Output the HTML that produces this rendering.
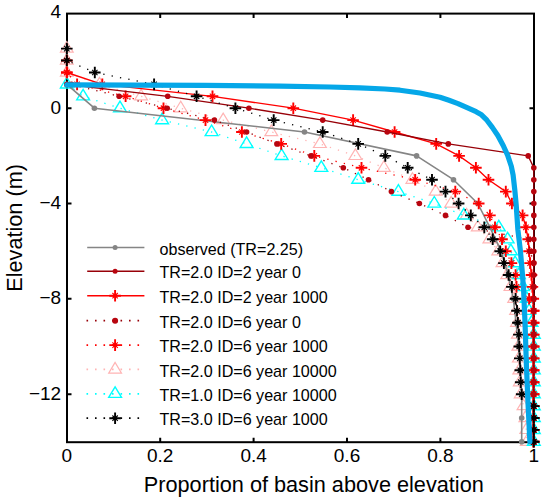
<!DOCTYPE html>
<html><head><meta charset="utf-8"><style>html,body{margin:0;padding:0;background:#fff;width:550px;height:499px;overflow:hidden;position:relative;font-family:"Liberation Sans",sans-serif}</style></head>
<body>
<svg width="550" height="499" viewBox="0 0 550 499" style="position:absolute;left:0;top:0">
<rect width="550" height="499" fill="#fff"/>
<rect x="67.0" y="13.6" width="467.0" height="428.6" fill="none" stroke="#000" stroke-width="2"/>
<path d="M160.2 442.2V437.7 M160.2 13.6V18.1 M253.6 442.2V437.7 M253.6 13.6V18.1 M347.0 442.2V437.7 M347.0 13.6V18.1 M440.4 442.2V437.7 M440.4 13.6V18.1 M67.0 108.2H71.5 M534.0 108.2H529.5 M67.0 203.5H71.5 M534.0 203.5H529.5 M67.0 298.8H71.5 M534.0 298.8H529.5 M67.0 394.2H71.5 M534.0 394.2H529.5" stroke="#000" stroke-width="2"/>
<polyline points="66.8,48.6 66.8,60.5 66.8,72.5 99.5,84.4 141.1,96.3 180.7,108.2 223.2,120.1 271.3,132.0 319.9,143.9 355.4,155.9 383.9,167.8 412.4,179.7 435.7,191.6 451.1,203.5 466.6,215.4 477.8,227.3 489.4,239.3 498.3,251.2 502.5,263.1 507.2,275.0 510.4,286.9 514.2,298.8 516.1,310.8 517.0,322.7 517.9,334.6 518.4,346.5 518.9,358.4 519.3,370.3 519.8,382.2 520.7,394.2 523.5,406.1 525.4,418.0 526.3,429.9 526.8,441.8" fill="none" stroke="#ffb4b4" stroke-width="1.30" stroke-dasharray="1.3 7.2" stroke-linejoin="round"/>
<path d="M66.8 41.6L60.4 52.2L73.2 52.2Z" stroke="#ffb4b4" stroke-width="1.2" fill="none" stroke-linejoin="miter"/>
<path d="M66.8 53.5L60.4 64.1L73.2 64.1Z" stroke="#ffb4b4" stroke-width="1.2" fill="none" stroke-linejoin="miter"/>
<path d="M66.8 65.5L60.4 76.1L73.2 76.1Z" stroke="#ffb4b4" stroke-width="1.2" fill="none" stroke-linejoin="miter"/>
<path d="M99.5 77.4L93.1 88.0L105.9 88.0Z" stroke="#ffb4b4" stroke-width="1.2" fill="none" stroke-linejoin="miter"/>
<path d="M141.1 89.3L134.7 99.9L147.5 99.9Z" stroke="#ffb4b4" stroke-width="1.2" fill="none" stroke-linejoin="miter"/>
<path d="M180.7 101.2L174.3 111.8L187.1 111.8Z" stroke="#ffb4b4" stroke-width="1.2" fill="none" stroke-linejoin="miter"/>
<path d="M223.2 113.1L216.8 123.7L229.6 123.7Z" stroke="#ffb4b4" stroke-width="1.2" fill="none" stroke-linejoin="miter"/>
<path d="M271.3 125.0L264.9 135.6L277.7 135.6Z" stroke="#ffb4b4" stroke-width="1.2" fill="none" stroke-linejoin="miter"/>
<path d="M319.9 136.9L313.5 147.5L326.3 147.5Z" stroke="#ffb4b4" stroke-width="1.2" fill="none" stroke-linejoin="miter"/>
<path d="M355.4 148.9L349.0 159.5L361.8 159.5Z" stroke="#ffb4b4" stroke-width="1.2" fill="none" stroke-linejoin="miter"/>
<path d="M383.9 160.8L377.5 171.4L390.3 171.4Z" stroke="#ffb4b4" stroke-width="1.2" fill="none" stroke-linejoin="miter"/>
<path d="M412.4 172.7L406.0 183.3L418.8 183.3Z" stroke="#ffb4b4" stroke-width="1.2" fill="none" stroke-linejoin="miter"/>
<path d="M435.7 184.6L429.3 195.2L442.1 195.2Z" stroke="#ffb4b4" stroke-width="1.2" fill="none" stroke-linejoin="miter"/>
<path d="M451.1 196.5L444.7 207.1L457.5 207.1Z" stroke="#ffb4b4" stroke-width="1.2" fill="none" stroke-linejoin="miter"/>
<path d="M466.6 208.4L460.2 219.0L473.0 219.0Z" stroke="#ffb4b4" stroke-width="1.2" fill="none" stroke-linejoin="miter"/>
<path d="M477.8 220.3L471.4 230.9L484.2 230.9Z" stroke="#ffb4b4" stroke-width="1.2" fill="none" stroke-linejoin="miter"/>
<path d="M489.4 232.3L483.0 242.9L495.8 242.9Z" stroke="#ffb4b4" stroke-width="1.2" fill="none" stroke-linejoin="miter"/>
<path d="M498.3 244.2L491.9 254.8L504.7 254.8Z" stroke="#ffb4b4" stroke-width="1.2" fill="none" stroke-linejoin="miter"/>
<path d="M502.5 256.1L496.1 266.7L508.9 266.7Z" stroke="#ffb4b4" stroke-width="1.2" fill="none" stroke-linejoin="miter"/>
<path d="M507.2 268.0L500.8 278.6L513.6 278.6Z" stroke="#ffb4b4" stroke-width="1.2" fill="none" stroke-linejoin="miter"/>
<path d="M510.4 279.9L504.1 290.5L516.9 290.5Z" stroke="#ffb4b4" stroke-width="1.2" fill="none" stroke-linejoin="miter"/>
<path d="M514.2 291.8L507.8 302.4L520.6 302.4Z" stroke="#ffb4b4" stroke-width="1.2" fill="none" stroke-linejoin="miter"/>
<path d="M516.1 303.8L509.7 314.4L522.5 314.4Z" stroke="#ffb4b4" stroke-width="1.2" fill="none" stroke-linejoin="miter"/>
<path d="M517.0 315.7L510.6 326.3L523.4 326.3Z" stroke="#ffb4b4" stroke-width="1.2" fill="none" stroke-linejoin="miter"/>
<path d="M517.9 327.6L511.5 338.2L524.3 338.2Z" stroke="#ffb4b4" stroke-width="1.2" fill="none" stroke-linejoin="miter"/>
<path d="M518.4 339.5L512.0 350.1L524.8 350.1Z" stroke="#ffb4b4" stroke-width="1.2" fill="none" stroke-linejoin="miter"/>
<path d="M518.9 351.4L512.5 362.0L525.3 362.0Z" stroke="#ffb4b4" stroke-width="1.2" fill="none" stroke-linejoin="miter"/>
<path d="M519.3 363.3L512.9 373.9L525.7 373.9Z" stroke="#ffb4b4" stroke-width="1.2" fill="none" stroke-linejoin="miter"/>
<path d="M519.8 375.2L513.4 385.8L526.2 385.8Z" stroke="#ffb4b4" stroke-width="1.2" fill="none" stroke-linejoin="miter"/>
<path d="M520.7 387.2L514.3 397.8L527.1 397.8Z" stroke="#ffb4b4" stroke-width="1.2" fill="none" stroke-linejoin="miter"/>
<path d="M523.5 399.1L517.1 409.7L529.9 409.7Z" stroke="#ffb4b4" stroke-width="1.2" fill="none" stroke-linejoin="miter"/>
<path d="M525.4 411.0L519.0 421.6L531.8 421.6Z" stroke="#ffb4b4" stroke-width="1.2" fill="none" stroke-linejoin="miter"/>
<path d="M526.3 422.9L519.9 433.5L532.7 433.5Z" stroke="#ffb4b4" stroke-width="1.2" fill="none" stroke-linejoin="miter"/>
<path d="M526.8 434.8L520.4 445.4L533.2 445.4Z" stroke="#ffb4b4" stroke-width="1.2" fill="none" stroke-linejoin="miter"/>
<polyline points="66.8,84.4 83.1,96.3 120.0,108.2 162.1,120.1 211.6,132.0 246.6,143.9 281.6,155.9 321.3,167.8 358.2,179.7 398.4,191.6 434.3,203.5 463.8,215.4 498.8,227.3 507.6,239.3 510.9,251.2 515.1,263.1 518.9,275.0 523.1,286.9 526.8,298.8 529.1,310.8 531.5,322.7 533.8,334.6 533.8,346.5 533.8,358.4 533.8,370.3 533.8,382.2 533.8,394.2 533.8,406.1 533.8,418.0 533.8,429.9 533.8,441.8" fill="none" stroke="#00ffff" stroke-width="1.30" stroke-dasharray="1.3 7.2" stroke-linejoin="round"/>
<path d="M66.8 77.4L60.4 88.0L73.2 88.0Z" stroke="#00ffff" stroke-width="1.4" fill="none" stroke-linejoin="miter"/>
<path d="M83.1 89.3L76.7 99.9L89.5 99.9Z" stroke="#00ffff" stroke-width="1.4" fill="none" stroke-linejoin="miter"/>
<path d="M120.0 101.2L113.6 111.8L126.4 111.8Z" stroke="#00ffff" stroke-width="1.4" fill="none" stroke-linejoin="miter"/>
<path d="M162.1 113.1L155.7 123.7L168.5 123.7Z" stroke="#00ffff" stroke-width="1.4" fill="none" stroke-linejoin="miter"/>
<path d="M211.6 125.0L205.2 135.6L218.0 135.6Z" stroke="#00ffff" stroke-width="1.4" fill="none" stroke-linejoin="miter"/>
<path d="M246.6 136.9L240.2 147.5L253.0 147.5Z" stroke="#00ffff" stroke-width="1.4" fill="none" stroke-linejoin="miter"/>
<path d="M281.6 148.9L275.2 159.5L288.0 159.5Z" stroke="#00ffff" stroke-width="1.4" fill="none" stroke-linejoin="miter"/>
<path d="M321.3 160.8L314.9 171.4L327.7 171.4Z" stroke="#00ffff" stroke-width="1.4" fill="none" stroke-linejoin="miter"/>
<path d="M358.2 172.7L351.8 183.3L364.6 183.3Z" stroke="#00ffff" stroke-width="1.4" fill="none" stroke-linejoin="miter"/>
<path d="M398.4 184.6L392.0 195.2L404.8 195.2Z" stroke="#00ffff" stroke-width="1.4" fill="none" stroke-linejoin="miter"/>
<path d="M434.3 196.5L427.9 207.1L440.7 207.1Z" stroke="#00ffff" stroke-width="1.4" fill="none" stroke-linejoin="miter"/>
<path d="M463.8 208.4L457.4 219.0L470.1 219.0Z" stroke="#00ffff" stroke-width="1.4" fill="none" stroke-linejoin="miter"/>
<path d="M498.8 220.3L492.4 230.9L505.2 230.9Z" stroke="#00ffff" stroke-width="1.4" fill="none" stroke-linejoin="miter"/>
<path d="M507.6 232.3L501.2 242.9L514.0 242.9Z" stroke="#00ffff" stroke-width="1.4" fill="none" stroke-linejoin="miter"/>
<path d="M510.9 244.2L504.5 254.8L517.3 254.8Z" stroke="#00ffff" stroke-width="1.4" fill="none" stroke-linejoin="miter"/>
<path d="M515.1 256.1L508.7 266.7L521.5 266.7Z" stroke="#00ffff" stroke-width="1.4" fill="none" stroke-linejoin="miter"/>
<path d="M518.9 268.0L512.5 278.6L525.3 278.6Z" stroke="#00ffff" stroke-width="1.4" fill="none" stroke-linejoin="miter"/>
<path d="M523.1 279.9L516.7 290.5L529.5 290.5Z" stroke="#00ffff" stroke-width="1.4" fill="none" stroke-linejoin="miter"/>
<path d="M526.8 291.8L520.4 302.4L533.2 302.4Z" stroke="#00ffff" stroke-width="1.4" fill="none" stroke-linejoin="miter"/>
<path d="M529.1 303.8L522.7 314.4L535.5 314.4Z" stroke="#00ffff" stroke-width="1.4" fill="none" stroke-linejoin="miter"/>
<path d="M531.5 315.7L525.1 326.3L537.9 326.3Z" stroke="#00ffff" stroke-width="1.4" fill="none" stroke-linejoin="miter"/>
<path d="M533.8 327.6L527.4 338.2L540.2 338.2Z" stroke="#00ffff" stroke-width="1.4" fill="none" stroke-linejoin="miter"/>
<path d="M533.8 339.5L527.4 350.1L540.2 350.1Z" stroke="#00ffff" stroke-width="1.4" fill="none" stroke-linejoin="miter"/>
<path d="M533.8 351.4L527.4 362.0L540.2 362.0Z" stroke="#00ffff" stroke-width="1.4" fill="none" stroke-linejoin="miter"/>
<path d="M533.8 363.3L527.4 373.9L540.2 373.9Z" stroke="#00ffff" stroke-width="1.4" fill="none" stroke-linejoin="miter"/>
<path d="M533.8 375.2L527.4 385.8L540.2 385.8Z" stroke="#00ffff" stroke-width="1.4" fill="none" stroke-linejoin="miter"/>
<path d="M533.8 387.2L527.4 397.8L540.2 397.8Z" stroke="#00ffff" stroke-width="1.4" fill="none" stroke-linejoin="miter"/>
<path d="M533.8 399.1L527.4 409.7L540.2 409.7Z" stroke="#00ffff" stroke-width="1.4" fill="none" stroke-linejoin="miter"/>
<path d="M533.8 411.0L527.4 421.6L540.2 421.6Z" stroke="#00ffff" stroke-width="1.4" fill="none" stroke-linejoin="miter"/>
<path d="M533.8 422.9L527.4 433.5L540.2 433.5Z" stroke="#00ffff" stroke-width="1.4" fill="none" stroke-linejoin="miter"/>
<path d="M533.8 434.8L527.4 445.4L540.2 445.4Z" stroke="#00ffff" stroke-width="1.4" fill="none" stroke-linejoin="miter"/>
<polyline points="66.8,84.4 94.4,108.2 304.5,132.0 416.6,155.9 453.5,179.7 477.8,203.5 489.9,227.3 501.1,251.2 508.1,275.0 513.3,298.8 516.1,322.7 518.4,346.5 520.3,370.3 521.7,394.2 521.7,418.0 521.7,441.8" fill="none" stroke="#858585" stroke-width="1.60"  stroke-linejoin="round"/>
<circle cx="66.8" cy="84.4" r="2.8" fill="#858585"/>
<circle cx="94.4" cy="108.2" r="2.8" fill="#858585"/>
<circle cx="304.5" cy="132.0" r="2.8" fill="#858585"/>
<circle cx="416.6" cy="155.9" r="2.8" fill="#858585"/>
<circle cx="453.5" cy="179.7" r="2.8" fill="#858585"/>
<circle cx="477.8" cy="203.5" r="2.8" fill="#858585"/>
<circle cx="489.9" cy="227.3" r="2.8" fill="#858585"/>
<circle cx="501.1" cy="251.2" r="2.8" fill="#858585"/>
<circle cx="508.1" cy="275.0" r="2.8" fill="#858585"/>
<circle cx="513.3" cy="298.8" r="2.8" fill="#858585"/>
<circle cx="516.1" cy="322.7" r="2.8" fill="#858585"/>
<circle cx="518.4" cy="346.5" r="2.8" fill="#858585"/>
<circle cx="520.3" cy="370.3" r="2.8" fill="#858585"/>
<circle cx="521.7" cy="394.2" r="2.8" fill="#858585"/>
<circle cx="521.7" cy="418.0" r="2.8" fill="#858585"/>
<circle cx="521.7" cy="441.8" r="2.8" fill="#858585"/>
<polyline points="66.8,72.5 102.3,84.4 212.5,96.3 293.3,108.2 353.1,120.1 394.6,132.0 436.2,143.9 459.1,155.9 475.9,167.8 488.5,179.7 505.8,191.6 511.9,203.5 522.6,215.4 525.9,227.3 528.2,239.3 529.1,251.2 530.1,263.1 531.5,275.0 532.4,286.9 533.3,298.8 533.3,310.8 533.3,322.7 533.3,334.6 533.3,346.5 533.3,358.4 533.3,370.3 533.3,382.2 533.3,394.2 533.3,406.1 533.3,418.0 533.3,429.9 533.3,441.8" fill="none" stroke="#ff0000" stroke-width="1.35"  stroke-linejoin="round"/>
<path d="M61.0 72.5H72.6M66.8 66.7V78.3" stroke="#ff0000" stroke-width="1.9" fill="none"/><path d="M64.1 69.8L69.5 75.2M64.1 75.2L69.5 69.8" stroke="#ff0000" stroke-width="1.1" fill="none"/><circle cx="66.8" cy="72.5" r="2.0" fill="#ff0000"/>
<path d="M96.5 84.4H108.1M102.3 78.6V90.2" stroke="#ff0000" stroke-width="1.9" fill="none"/><path d="M99.6 81.7L105.0 87.1M99.6 87.1L105.0 81.7" stroke="#ff0000" stroke-width="1.1" fill="none"/><circle cx="102.3" cy="84.4" r="2.0" fill="#ff0000"/>
<path d="M206.7 96.3H218.3M212.5 90.5V102.1" stroke="#ff0000" stroke-width="1.9" fill="none"/><path d="M209.8 93.6L215.2 99.0M209.8 99.0L215.2 93.6" stroke="#ff0000" stroke-width="1.1" fill="none"/><circle cx="212.5" cy="96.3" r="2.0" fill="#ff0000"/>
<path d="M287.5 108.2H299.1M293.3 102.4V114.0" stroke="#ff0000" stroke-width="1.9" fill="none"/><path d="M290.6 105.5L296.0 110.9M290.6 110.9L296.0 105.5" stroke="#ff0000" stroke-width="1.1" fill="none"/><circle cx="293.3" cy="108.2" r="2.0" fill="#ff0000"/>
<path d="M347.3 120.1H358.9M353.1 114.3V125.9" stroke="#ff0000" stroke-width="1.9" fill="none"/><path d="M350.4 117.4L355.8 122.8M350.4 122.8L355.8 117.4" stroke="#ff0000" stroke-width="1.1" fill="none"/><circle cx="353.1" cy="120.1" r="2.0" fill="#ff0000"/>
<path d="M388.8 132.0H400.4M394.6 126.2V137.8" stroke="#ff0000" stroke-width="1.9" fill="none"/><path d="M391.9 129.3L397.3 134.7M391.9 134.7L397.3 129.3" stroke="#ff0000" stroke-width="1.1" fill="none"/><circle cx="394.6" cy="132.0" r="2.0" fill="#ff0000"/>
<path d="M430.4 143.9H442.0M436.2 138.1V149.7" stroke="#ff0000" stroke-width="1.9" fill="none"/><path d="M433.5 141.2L438.9 146.6M433.5 146.6L438.9 141.2" stroke="#ff0000" stroke-width="1.1" fill="none"/><circle cx="436.2" cy="143.9" r="2.0" fill="#ff0000"/>
<path d="M453.3 155.9H464.9M459.1 150.1V161.7" stroke="#ff0000" stroke-width="1.9" fill="none"/><path d="M456.4 153.2L461.8 158.6M456.4 158.6L461.8 153.2" stroke="#ff0000" stroke-width="1.1" fill="none"/><circle cx="459.1" cy="155.9" r="2.0" fill="#ff0000"/>
<path d="M470.1 167.8H481.7M475.9 162.0V173.6" stroke="#ff0000" stroke-width="1.9" fill="none"/><path d="M473.2 165.1L478.6 170.5M473.2 170.5L478.6 165.1" stroke="#ff0000" stroke-width="1.1" fill="none"/><circle cx="475.9" cy="167.8" r="2.0" fill="#ff0000"/>
<path d="M482.7 179.7H494.3M488.5 173.9V185.5" stroke="#ff0000" stroke-width="1.9" fill="none"/><path d="M485.8 177.0L491.2 182.4M485.8 182.4L491.2 177.0" stroke="#ff0000" stroke-width="1.1" fill="none"/><circle cx="488.5" cy="179.7" r="2.0" fill="#ff0000"/>
<path d="M500.0 191.6H511.6M505.8 185.8V197.4" stroke="#ff0000" stroke-width="1.9" fill="none"/><path d="M503.1 188.9L508.5 194.3M503.1 194.3L508.5 188.9" stroke="#ff0000" stroke-width="1.1" fill="none"/><circle cx="505.8" cy="191.6" r="2.0" fill="#ff0000"/>
<path d="M506.1 203.5H517.7M511.9 197.7V209.3" stroke="#ff0000" stroke-width="1.9" fill="none"/><path d="M509.2 200.8L514.6 206.2M509.2 206.2L514.6 200.8" stroke="#ff0000" stroke-width="1.1" fill="none"/><circle cx="511.9" cy="203.5" r="2.0" fill="#ff0000"/>
<path d="M516.8 215.4H528.4M522.6 209.6V221.2" stroke="#ff0000" stroke-width="1.9" fill="none"/><path d="M519.9 212.7L525.3 218.1M519.9 218.1L525.3 212.7" stroke="#ff0000" stroke-width="1.1" fill="none"/><circle cx="522.6" cy="215.4" r="2.0" fill="#ff0000"/>
<path d="M520.1 227.3H531.7M525.9 221.5V233.2" stroke="#ff0000" stroke-width="1.9" fill="none"/><path d="M523.2 224.7L528.6 230.0M523.2 230.0L528.6 224.7" stroke="#ff0000" stroke-width="1.1" fill="none"/><circle cx="525.9" cy="227.3" r="2.0" fill="#ff0000"/>
<path d="M522.4 239.3H534.0M528.2 233.5V245.1" stroke="#ff0000" stroke-width="1.9" fill="none"/><path d="M525.5 236.6L530.9 242.0M525.5 242.0L530.9 236.6" stroke="#ff0000" stroke-width="1.1" fill="none"/><circle cx="528.2" cy="239.3" r="2.0" fill="#ff0000"/>
<path d="M523.3 251.2H534.9M529.1 245.4V257.0" stroke="#ff0000" stroke-width="1.9" fill="none"/><path d="M526.4 248.5L531.8 253.9M526.4 253.9L531.8 248.5" stroke="#ff0000" stroke-width="1.1" fill="none"/><circle cx="529.1" cy="251.2" r="2.0" fill="#ff0000"/>
<path d="M524.3 263.1H535.9M530.1 257.3V268.9" stroke="#ff0000" stroke-width="1.9" fill="none"/><path d="M527.4 260.4L532.8 265.8M527.4 265.8L532.8 260.4" stroke="#ff0000" stroke-width="1.1" fill="none"/><circle cx="530.1" cy="263.1" r="2.0" fill="#ff0000"/>
<path d="M525.7 275.0H537.3M531.5 269.2V280.8" stroke="#ff0000" stroke-width="1.9" fill="none"/><path d="M528.8 272.3L534.2 277.7M528.8 277.7L534.2 272.3" stroke="#ff0000" stroke-width="1.1" fill="none"/><circle cx="531.5" cy="275.0" r="2.0" fill="#ff0000"/>
<path d="M526.6 286.9H538.2M532.4 281.1V292.7" stroke="#ff0000" stroke-width="1.9" fill="none"/><path d="M529.7 284.2L535.1 289.6M529.7 289.6L535.1 284.2" stroke="#ff0000" stroke-width="1.1" fill="none"/><circle cx="532.4" cy="286.9" r="2.0" fill="#ff0000"/>
<path d="M527.5 298.8H539.1M533.3 293.0V304.6" stroke="#ff0000" stroke-width="1.9" fill="none"/><path d="M530.6 296.1L536.0 301.5M530.6 301.5L536.0 296.1" stroke="#ff0000" stroke-width="1.1" fill="none"/><circle cx="533.3" cy="298.8" r="2.0" fill="#ff0000"/>
<path d="M527.5 310.8H539.1M533.3 305.0V316.6" stroke="#ff0000" stroke-width="1.9" fill="none"/><path d="M530.6 308.1L536.0 313.5M530.6 313.5L536.0 308.1" stroke="#ff0000" stroke-width="1.1" fill="none"/><circle cx="533.3" cy="310.8" r="2.0" fill="#ff0000"/>
<path d="M527.5 322.7H539.1M533.3 316.9V328.5" stroke="#ff0000" stroke-width="1.9" fill="none"/><path d="M530.6 320.0L536.0 325.4M530.6 325.4L536.0 320.0" stroke="#ff0000" stroke-width="1.1" fill="none"/><circle cx="533.3" cy="322.7" r="2.0" fill="#ff0000"/>
<path d="M527.5 334.6H539.1M533.3 328.8V340.4" stroke="#ff0000" stroke-width="1.9" fill="none"/><path d="M530.6 331.9L536.0 337.3M530.6 337.3L536.0 331.9" stroke="#ff0000" stroke-width="1.1" fill="none"/><circle cx="533.3" cy="334.6" r="2.0" fill="#ff0000"/>
<path d="M527.5 346.5H539.1M533.3 340.7V352.3" stroke="#ff0000" stroke-width="1.9" fill="none"/><path d="M530.6 343.8L536.0 349.2M530.6 349.2L536.0 343.8" stroke="#ff0000" stroke-width="1.1" fill="none"/><circle cx="533.3" cy="346.5" r="2.0" fill="#ff0000"/>
<path d="M527.5 358.4H539.1M533.3 352.6V364.2" stroke="#ff0000" stroke-width="1.9" fill="none"/><path d="M530.6 355.7L536.0 361.1M530.6 361.1L536.0 355.7" stroke="#ff0000" stroke-width="1.1" fill="none"/><circle cx="533.3" cy="358.4" r="2.0" fill="#ff0000"/>
<path d="M527.5 370.3H539.1M533.3 364.5V376.1" stroke="#ff0000" stroke-width="1.9" fill="none"/><path d="M530.6 367.6L536.0 373.0M530.6 373.0L536.0 367.6" stroke="#ff0000" stroke-width="1.1" fill="none"/><circle cx="533.3" cy="370.3" r="2.0" fill="#ff0000"/>
<path d="M527.5 382.2H539.1M533.3 376.4V388.0" stroke="#ff0000" stroke-width="1.9" fill="none"/><path d="M530.6 379.5L536.0 384.9M530.6 384.9L536.0 379.5" stroke="#ff0000" stroke-width="1.1" fill="none"/><circle cx="533.3" cy="382.2" r="2.0" fill="#ff0000"/>
<path d="M527.5 394.2H539.1M533.3 388.4V400.0" stroke="#ff0000" stroke-width="1.9" fill="none"/><path d="M530.6 391.5L536.0 396.9M530.6 396.9L536.0 391.5" stroke="#ff0000" stroke-width="1.1" fill="none"/><circle cx="533.3" cy="394.2" r="2.0" fill="#ff0000"/>
<path d="M527.5 406.1H539.1M533.3 400.3V411.9" stroke="#ff0000" stroke-width="1.9" fill="none"/><path d="M530.6 403.4L536.0 408.8M530.6 408.8L536.0 403.4" stroke="#ff0000" stroke-width="1.1" fill="none"/><circle cx="533.3" cy="406.1" r="2.0" fill="#ff0000"/>
<path d="M527.5 418.0H539.1M533.3 412.2V423.8" stroke="#ff0000" stroke-width="1.9" fill="none"/><path d="M530.6 415.3L536.0 420.7M530.6 420.7L536.0 415.3" stroke="#ff0000" stroke-width="1.1" fill="none"/><circle cx="533.3" cy="418.0" r="2.0" fill="#ff0000"/>
<path d="M527.5 429.9H539.1M533.3 424.1V435.7" stroke="#ff0000" stroke-width="1.9" fill="none"/><path d="M530.6 427.2L536.0 432.6M530.6 432.6L536.0 427.2" stroke="#ff0000" stroke-width="1.1" fill="none"/><circle cx="533.3" cy="429.9" r="2.0" fill="#ff0000"/>
<path d="M527.5 441.8H539.1M533.3 436.0V447.6" stroke="#ff0000" stroke-width="1.9" fill="none"/><path d="M530.6 439.1L536.0 444.5M530.6 444.5L536.0 439.1" stroke="#ff0000" stroke-width="1.1" fill="none"/><circle cx="533.3" cy="441.8" r="2.0" fill="#ff0000"/>
<polyline points="66.8,60.5 66.8,72.5 77.1,84.4 125.6,96.3 163.5,108.2 205.5,120.1 241.9,132.0 281.2,143.9 314.3,155.9 361.5,167.8 415.2,179.7 455.3,191.6 478.7,203.5 489.9,215.4 495.0,227.3 502.0,239.3 505.8,251.2 511.4,263.1 515.6,275.0 516.5,286.9 529.1,298.8 533.8,310.8 533.8,322.7 533.8,334.6 533.8,346.5 533.8,358.4 533.8,370.3 533.8,382.2 533.8,394.2 533.8,406.1 533.8,418.0 533.8,429.9 533.8,441.8" fill="none" stroke="#ff0000" stroke-width="1.30" stroke-dasharray="1.3 7.2" stroke-linejoin="round"/>
<path d="M61.0 60.5H72.6M66.8 54.7V66.3" stroke="#ff0000" stroke-width="1.9" fill="none"/><path d="M64.1 57.8L69.5 63.2M64.1 63.2L69.5 57.8" stroke="#ff0000" stroke-width="1.1" fill="none"/><circle cx="66.8" cy="60.5" r="2.0" fill="#ff0000"/>
<path d="M61.0 72.5H72.6M66.8 66.7V78.3" stroke="#ff0000" stroke-width="1.9" fill="none"/><path d="M64.1 69.8L69.5 75.2M64.1 75.2L69.5 69.8" stroke="#ff0000" stroke-width="1.1" fill="none"/><circle cx="66.8" cy="72.5" r="2.0" fill="#ff0000"/>
<path d="M71.3 84.4H82.9M77.1 78.6V90.2" stroke="#ff0000" stroke-width="1.9" fill="none"/><path d="M74.4 81.7L79.8 87.1M74.4 87.1L79.8 81.7" stroke="#ff0000" stroke-width="1.1" fill="none"/><circle cx="77.1" cy="84.4" r="2.0" fill="#ff0000"/>
<path d="M119.8 96.3H131.4M125.6 90.5V102.1" stroke="#ff0000" stroke-width="1.9" fill="none"/><path d="M122.9 93.6L128.3 99.0M122.9 99.0L128.3 93.6" stroke="#ff0000" stroke-width="1.1" fill="none"/><circle cx="125.6" cy="96.3" r="2.0" fill="#ff0000"/>
<path d="M157.7 108.2H169.3M163.5 102.4V114.0" stroke="#ff0000" stroke-width="1.9" fill="none"/><path d="M160.8 105.5L166.2 110.9M160.8 110.9L166.2 105.5" stroke="#ff0000" stroke-width="1.1" fill="none"/><circle cx="163.5" cy="108.2" r="2.0" fill="#ff0000"/>
<path d="M199.7 120.1H211.3M205.5 114.3V125.9" stroke="#ff0000" stroke-width="1.9" fill="none"/><path d="M202.8 117.4L208.2 122.8M202.8 122.8L208.2 117.4" stroke="#ff0000" stroke-width="1.1" fill="none"/><circle cx="205.5" cy="120.1" r="2.0" fill="#ff0000"/>
<path d="M236.1 132.0H247.7M241.9 126.2V137.8" stroke="#ff0000" stroke-width="1.9" fill="none"/><path d="M239.2 129.3L244.6 134.7M239.2 134.7L244.6 129.3" stroke="#ff0000" stroke-width="1.1" fill="none"/><circle cx="241.9" cy="132.0" r="2.0" fill="#ff0000"/>
<path d="M275.4 143.9H287.0M281.2 138.1V149.7" stroke="#ff0000" stroke-width="1.9" fill="none"/><path d="M278.5 141.2L283.9 146.6M278.5 146.6L283.9 141.2" stroke="#ff0000" stroke-width="1.1" fill="none"/><circle cx="281.2" cy="143.9" r="2.0" fill="#ff0000"/>
<path d="M308.5 155.9H320.1M314.3 150.1V161.7" stroke="#ff0000" stroke-width="1.9" fill="none"/><path d="M311.6 153.2L317.0 158.6M311.6 158.6L317.0 153.2" stroke="#ff0000" stroke-width="1.1" fill="none"/><circle cx="314.3" cy="155.9" r="2.0" fill="#ff0000"/>
<path d="M355.7 167.8H367.3M361.5 162.0V173.6" stroke="#ff0000" stroke-width="1.9" fill="none"/><path d="M358.8 165.1L364.2 170.5M358.8 170.5L364.2 165.1" stroke="#ff0000" stroke-width="1.1" fill="none"/><circle cx="361.5" cy="167.8" r="2.0" fill="#ff0000"/>
<path d="M409.4 179.7H421.0M415.2 173.9V185.5" stroke="#ff0000" stroke-width="1.9" fill="none"/><path d="M412.5 177.0L417.9 182.4M412.5 182.4L417.9 177.0" stroke="#ff0000" stroke-width="1.1" fill="none"/><circle cx="415.2" cy="179.7" r="2.0" fill="#ff0000"/>
<path d="M449.5 191.6H461.1M455.3 185.8V197.4" stroke="#ff0000" stroke-width="1.9" fill="none"/><path d="M452.6 188.9L458.0 194.3M452.6 194.3L458.0 188.9" stroke="#ff0000" stroke-width="1.1" fill="none"/><circle cx="455.3" cy="191.6" r="2.0" fill="#ff0000"/>
<path d="M472.9 203.5H484.5M478.7 197.7V209.3" stroke="#ff0000" stroke-width="1.9" fill="none"/><path d="M476.0 200.8L481.4 206.2M476.0 206.2L481.4 200.8" stroke="#ff0000" stroke-width="1.1" fill="none"/><circle cx="478.7" cy="203.5" r="2.0" fill="#ff0000"/>
<path d="M484.1 215.4H495.7M489.9 209.6V221.2" stroke="#ff0000" stroke-width="1.9" fill="none"/><path d="M487.2 212.7L492.6 218.1M487.2 218.1L492.6 212.7" stroke="#ff0000" stroke-width="1.1" fill="none"/><circle cx="489.9" cy="215.4" r="2.0" fill="#ff0000"/>
<path d="M489.2 227.3H500.8M495.0 221.5V233.2" stroke="#ff0000" stroke-width="1.9" fill="none"/><path d="M492.3 224.7L497.7 230.0M492.3 230.0L497.7 224.7" stroke="#ff0000" stroke-width="1.1" fill="none"/><circle cx="495.0" cy="227.3" r="2.0" fill="#ff0000"/>
<path d="M496.2 239.3H507.8M502.0 233.5V245.1" stroke="#ff0000" stroke-width="1.9" fill="none"/><path d="M499.3 236.6L504.7 242.0M499.3 242.0L504.7 236.6" stroke="#ff0000" stroke-width="1.1" fill="none"/><circle cx="502.0" cy="239.3" r="2.0" fill="#ff0000"/>
<path d="M500.0 251.2H511.6M505.8 245.4V257.0" stroke="#ff0000" stroke-width="1.9" fill="none"/><path d="M503.1 248.5L508.5 253.9M503.1 253.9L508.5 248.5" stroke="#ff0000" stroke-width="1.1" fill="none"/><circle cx="505.8" cy="251.2" r="2.0" fill="#ff0000"/>
<path d="M505.6 263.1H517.2M511.4 257.3V268.9" stroke="#ff0000" stroke-width="1.9" fill="none"/><path d="M508.7 260.4L514.1 265.8M508.7 265.8L514.1 260.4" stroke="#ff0000" stroke-width="1.1" fill="none"/><circle cx="511.4" cy="263.1" r="2.0" fill="#ff0000"/>
<path d="M509.8 275.0H521.4M515.6 269.2V280.8" stroke="#ff0000" stroke-width="1.9" fill="none"/><path d="M512.9 272.3L518.3 277.7M512.9 277.7L518.3 272.3" stroke="#ff0000" stroke-width="1.1" fill="none"/><circle cx="515.6" cy="275.0" r="2.0" fill="#ff0000"/>
<path d="M510.7 286.9H522.3M516.5 281.1V292.7" stroke="#ff0000" stroke-width="1.9" fill="none"/><path d="M513.8 284.2L519.2 289.6M513.8 289.6L519.2 284.2" stroke="#ff0000" stroke-width="1.1" fill="none"/><circle cx="516.5" cy="286.9" r="2.0" fill="#ff0000"/>
<path d="M523.3 298.8H534.9M529.1 293.0V304.6" stroke="#ff0000" stroke-width="1.9" fill="none"/><path d="M526.4 296.1L531.8 301.5M526.4 301.5L531.8 296.1" stroke="#ff0000" stroke-width="1.1" fill="none"/><circle cx="529.1" cy="298.8" r="2.0" fill="#ff0000"/>
<path d="M528.0 310.8H539.6M533.8 305.0V316.6" stroke="#ff0000" stroke-width="1.9" fill="none"/><path d="M531.1 308.1L536.5 313.5M531.1 313.5L536.5 308.1" stroke="#ff0000" stroke-width="1.1" fill="none"/><circle cx="533.8" cy="310.8" r="2.0" fill="#ff0000"/>
<path d="M528.0 322.7H539.6M533.8 316.9V328.5" stroke="#ff0000" stroke-width="1.9" fill="none"/><path d="M531.1 320.0L536.5 325.4M531.1 325.4L536.5 320.0" stroke="#ff0000" stroke-width="1.1" fill="none"/><circle cx="533.8" cy="322.7" r="2.0" fill="#ff0000"/>
<path d="M528.0 334.6H539.6M533.8 328.8V340.4" stroke="#ff0000" stroke-width="1.9" fill="none"/><path d="M531.1 331.9L536.5 337.3M531.1 337.3L536.5 331.9" stroke="#ff0000" stroke-width="1.1" fill="none"/><circle cx="533.8" cy="334.6" r="2.0" fill="#ff0000"/>
<path d="M528.0 346.5H539.6M533.8 340.7V352.3" stroke="#ff0000" stroke-width="1.9" fill="none"/><path d="M531.1 343.8L536.5 349.2M531.1 349.2L536.5 343.8" stroke="#ff0000" stroke-width="1.1" fill="none"/><circle cx="533.8" cy="346.5" r="2.0" fill="#ff0000"/>
<path d="M528.0 358.4H539.6M533.8 352.6V364.2" stroke="#ff0000" stroke-width="1.9" fill="none"/><path d="M531.1 355.7L536.5 361.1M531.1 361.1L536.5 355.7" stroke="#ff0000" stroke-width="1.1" fill="none"/><circle cx="533.8" cy="358.4" r="2.0" fill="#ff0000"/>
<path d="M528.0 370.3H539.6M533.8 364.5V376.1" stroke="#ff0000" stroke-width="1.9" fill="none"/><path d="M531.1 367.6L536.5 373.0M531.1 373.0L536.5 367.6" stroke="#ff0000" stroke-width="1.1" fill="none"/><circle cx="533.8" cy="370.3" r="2.0" fill="#ff0000"/>
<path d="M528.0 382.2H539.6M533.8 376.4V388.0" stroke="#ff0000" stroke-width="1.9" fill="none"/><path d="M531.1 379.5L536.5 384.9M531.1 384.9L536.5 379.5" stroke="#ff0000" stroke-width="1.1" fill="none"/><circle cx="533.8" cy="382.2" r="2.0" fill="#ff0000"/>
<path d="M528.0 394.2H539.6M533.8 388.4V400.0" stroke="#ff0000" stroke-width="1.9" fill="none"/><path d="M531.1 391.5L536.5 396.9M531.1 396.9L536.5 391.5" stroke="#ff0000" stroke-width="1.1" fill="none"/><circle cx="533.8" cy="394.2" r="2.0" fill="#ff0000"/>
<path d="M528.0 406.1H539.6M533.8 400.3V411.9" stroke="#ff0000" stroke-width="1.9" fill="none"/><path d="M531.1 403.4L536.5 408.8M531.1 408.8L536.5 403.4" stroke="#ff0000" stroke-width="1.1" fill="none"/><circle cx="533.8" cy="406.1" r="2.0" fill="#ff0000"/>
<path d="M528.0 418.0H539.6M533.8 412.2V423.8" stroke="#ff0000" stroke-width="1.9" fill="none"/><path d="M531.1 415.3L536.5 420.7M531.1 420.7L536.5 415.3" stroke="#ff0000" stroke-width="1.1" fill="none"/><circle cx="533.8" cy="418.0" r="2.0" fill="#ff0000"/>
<path d="M528.0 429.9H539.6M533.8 424.1V435.7" stroke="#ff0000" stroke-width="1.9" fill="none"/><path d="M531.1 427.2L536.5 432.6M531.1 432.6L536.5 427.2" stroke="#ff0000" stroke-width="1.1" fill="none"/><circle cx="533.8" cy="429.9" r="2.0" fill="#ff0000"/>
<path d="M528.0 441.8H539.6M533.8 436.0V447.6" stroke="#ff0000" stroke-width="1.9" fill="none"/><path d="M531.1 439.1L536.5 444.5M531.1 444.5L536.5 439.1" stroke="#ff0000" stroke-width="1.1" fill="none"/><circle cx="533.8" cy="441.8" r="2.0" fill="#ff0000"/>
<polyline points="66.8,84.4 167.7,96.3 248.9,108.2 322.7,120.1 387.2,132.0 448.3,143.9 528.2,155.9 533.8,167.8 533.8,179.7 533.8,191.6 533.8,203.5 533.8,215.4 533.8,227.3 533.8,239.3 533.8,251.2 533.8,263.1 533.8,275.0 533.8,286.9 533.8,298.8 533.8,310.8 533.8,322.7 533.8,334.6 533.8,346.5 533.8,358.4 533.8,370.3 533.8,382.2 533.8,394.2 533.8,406.1 533.8,418.0 533.8,429.9 533.8,441.8" fill="none" stroke="#980008" stroke-width="1.35"  stroke-linejoin="round"/>
<circle cx="66.8" cy="84.4" r="2.8" fill="#b8050f"/>
<circle cx="167.7" cy="96.3" r="2.8" fill="#b8050f"/>
<circle cx="248.9" cy="108.2" r="2.8" fill="#b8050f"/>
<circle cx="322.7" cy="120.1" r="2.8" fill="#b8050f"/>
<circle cx="387.2" cy="132.0" r="2.8" fill="#b8050f"/>
<circle cx="448.3" cy="143.9" r="2.8" fill="#b8050f"/>
<circle cx="528.2" cy="155.9" r="2.8" fill="#b8050f"/>
<circle cx="533.8" cy="167.8" r="2.8" fill="#b8050f"/>
<circle cx="533.8" cy="179.7" r="2.8" fill="#b8050f"/>
<circle cx="533.8" cy="191.6" r="2.8" fill="#b8050f"/>
<circle cx="533.8" cy="203.5" r="2.8" fill="#b8050f"/>
<circle cx="533.8" cy="215.4" r="2.8" fill="#b8050f"/>
<circle cx="533.8" cy="227.3" r="2.8" fill="#b8050f"/>
<circle cx="533.8" cy="239.3" r="2.8" fill="#b8050f"/>
<circle cx="533.8" cy="251.2" r="2.8" fill="#b8050f"/>
<circle cx="533.8" cy="263.1" r="2.8" fill="#b8050f"/>
<circle cx="533.8" cy="275.0" r="2.8" fill="#b8050f"/>
<circle cx="533.8" cy="286.9" r="2.8" fill="#b8050f"/>
<circle cx="533.8" cy="298.8" r="2.8" fill="#b8050f"/>
<circle cx="533.8" cy="310.8" r="2.8" fill="#b8050f"/>
<circle cx="533.8" cy="322.7" r="2.8" fill="#b8050f"/>
<circle cx="533.8" cy="334.6" r="2.8" fill="#b8050f"/>
<circle cx="533.8" cy="346.5" r="2.8" fill="#b8050f"/>
<circle cx="533.8" cy="358.4" r="2.8" fill="#b8050f"/>
<circle cx="533.8" cy="370.3" r="2.8" fill="#b8050f"/>
<circle cx="533.8" cy="382.2" r="2.8" fill="#b8050f"/>
<circle cx="533.8" cy="394.2" r="2.8" fill="#b8050f"/>
<circle cx="533.8" cy="406.1" r="2.8" fill="#b8050f"/>
<circle cx="533.8" cy="418.0" r="2.8" fill="#b8050f"/>
<circle cx="533.8" cy="429.9" r="2.8" fill="#b8050f"/>
<circle cx="533.8" cy="441.8" r="2.8" fill="#b8050f"/>
<polyline points="71.5,84.4 119.1,96.3 167.2,108.2 214.4,120.1 246.6,132.0 276.9,143.9 311.0,155.9 343.3,167.8 368.5,179.7 391.4,191.6 419.4,203.5 445.5,215.4 468.0,227.3 529.1,239.3 530.1,251.2 533.8,263.1 533.8,275.0 533.8,286.9 533.8,298.8 533.8,310.8 533.8,322.7 533.8,334.6 533.8,346.5 533.8,358.4 533.8,370.3 533.8,382.2 533.8,394.2 533.8,406.1 533.8,418.0 533.8,429.9 533.8,441.8" fill="none" stroke="#980008" stroke-width="1.30" stroke-dasharray="1.3 7.2" stroke-linejoin="round"/>
<circle cx="71.5" cy="84.4" r="2.8" fill="#b8050f"/>
<circle cx="119.1" cy="96.3" r="2.8" fill="#b8050f"/>
<circle cx="167.2" cy="108.2" r="2.8" fill="#b8050f"/>
<circle cx="214.4" cy="120.1" r="2.8" fill="#b8050f"/>
<circle cx="246.6" cy="132.0" r="2.8" fill="#b8050f"/>
<circle cx="276.9" cy="143.9" r="2.8" fill="#b8050f"/>
<circle cx="311.0" cy="155.9" r="2.8" fill="#b8050f"/>
<circle cx="343.3" cy="167.8" r="2.8" fill="#b8050f"/>
<circle cx="368.5" cy="179.7" r="2.8" fill="#b8050f"/>
<circle cx="391.4" cy="191.6" r="2.8" fill="#b8050f"/>
<circle cx="419.4" cy="203.5" r="2.8" fill="#b8050f"/>
<circle cx="445.5" cy="215.4" r="2.8" fill="#b8050f"/>
<circle cx="468.0" cy="227.3" r="2.8" fill="#b8050f"/>
<circle cx="529.1" cy="239.3" r="2.8" fill="#b8050f"/>
<circle cx="530.1" cy="251.2" r="2.8" fill="#b8050f"/>
<circle cx="533.8" cy="263.1" r="2.8" fill="#b8050f"/>
<circle cx="533.8" cy="275.0" r="2.8" fill="#b8050f"/>
<circle cx="533.8" cy="286.9" r="2.8" fill="#b8050f"/>
<circle cx="533.8" cy="298.8" r="2.8" fill="#b8050f"/>
<circle cx="533.8" cy="310.8" r="2.8" fill="#b8050f"/>
<circle cx="533.8" cy="322.7" r="2.8" fill="#b8050f"/>
<circle cx="533.8" cy="334.6" r="2.8" fill="#b8050f"/>
<circle cx="533.8" cy="346.5" r="2.8" fill="#b8050f"/>
<circle cx="533.8" cy="358.4" r="2.8" fill="#b8050f"/>
<circle cx="533.8" cy="370.3" r="2.8" fill="#b8050f"/>
<circle cx="533.8" cy="382.2" r="2.8" fill="#b8050f"/>
<circle cx="533.8" cy="394.2" r="2.8" fill="#b8050f"/>
<circle cx="533.8" cy="406.1" r="2.8" fill="#b8050f"/>
<circle cx="533.8" cy="418.0" r="2.8" fill="#b8050f"/>
<circle cx="533.8" cy="429.9" r="2.8" fill="#b8050f"/>
<circle cx="533.8" cy="441.8" r="2.8" fill="#b8050f"/>
<polyline points="66.8,48.6 66.8,60.5 94.8,72.5 154.1,84.4 196.6,96.3 235.4,108.2 273.7,120.1 322.7,132.0 358.2,143.9 385.3,155.9 407.7,167.8 432.0,179.7 445.5,191.6 458.6,203.5 470.8,215.4 484.3,227.3 492.7,239.3 500.2,251.2 503.9,263.1 508.6,275.0 511.9,286.9 515.6,298.8 517.0,310.8 517.9,322.7 518.9,334.6 519.3,346.5 519.8,358.4 520.3,370.3 520.7,382.2 521.7,394.2 533.8,406.1 533.8,418.0 533.8,429.9 533.8,441.8" fill="none" stroke="#000000" stroke-width="1.30" stroke-dasharray="1.3 7.2" stroke-linejoin="round"/>
<path d="M61.0 48.6H72.6M66.8 42.8V54.4" stroke="#000000" stroke-width="1.9" fill="none"/><path d="M64.1 45.9L69.5 51.3M64.1 51.3L69.5 45.9" stroke="#000000" stroke-width="1.1" fill="none"/><circle cx="66.8" cy="48.6" r="2.0" fill="#000000"/>
<path d="M61.0 60.5H72.6M66.8 54.7V66.3" stroke="#000000" stroke-width="1.9" fill="none"/><path d="M64.1 57.8L69.5 63.2M64.1 63.2L69.5 57.8" stroke="#000000" stroke-width="1.1" fill="none"/><circle cx="66.8" cy="60.5" r="2.0" fill="#000000"/>
<path d="M89.0 72.5H100.6M94.8 66.7V78.3" stroke="#000000" stroke-width="1.9" fill="none"/><path d="M92.1 69.8L97.5 75.2M92.1 75.2L97.5 69.8" stroke="#000000" stroke-width="1.1" fill="none"/><circle cx="94.8" cy="72.5" r="2.0" fill="#000000"/>
<path d="M148.3 84.4H159.9M154.1 78.6V90.2" stroke="#000000" stroke-width="1.9" fill="none"/><path d="M151.4 81.7L156.8 87.1M151.4 87.1L156.8 81.7" stroke="#000000" stroke-width="1.1" fill="none"/><circle cx="154.1" cy="84.4" r="2.0" fill="#000000"/>
<path d="M190.8 96.3H202.4M196.6 90.5V102.1" stroke="#000000" stroke-width="1.9" fill="none"/><path d="M193.9 93.6L199.3 99.0M193.9 99.0L199.3 93.6" stroke="#000000" stroke-width="1.1" fill="none"/><circle cx="196.6" cy="96.3" r="2.0" fill="#000000"/>
<path d="M229.6 108.2H241.2M235.4 102.4V114.0" stroke="#000000" stroke-width="1.9" fill="none"/><path d="M232.7 105.5L238.1 110.9M232.7 110.9L238.1 105.5" stroke="#000000" stroke-width="1.1" fill="none"/><circle cx="235.4" cy="108.2" r="2.0" fill="#000000"/>
<path d="M267.9 120.1H279.5M273.7 114.3V125.9" stroke="#000000" stroke-width="1.9" fill="none"/><path d="M271.0 117.4L276.4 122.8M271.0 122.8L276.4 117.4" stroke="#000000" stroke-width="1.1" fill="none"/><circle cx="273.7" cy="120.1" r="2.0" fill="#000000"/>
<path d="M316.9 132.0H328.5M322.7 126.2V137.8" stroke="#000000" stroke-width="1.9" fill="none"/><path d="M320.0 129.3L325.4 134.7M320.0 134.7L325.4 129.3" stroke="#000000" stroke-width="1.1" fill="none"/><circle cx="322.7" cy="132.0" r="2.0" fill="#000000"/>
<path d="M352.4 143.9H364.0M358.2 138.1V149.7" stroke="#000000" stroke-width="1.9" fill="none"/><path d="M355.5 141.2L360.9 146.6M355.5 146.6L360.9 141.2" stroke="#000000" stroke-width="1.1" fill="none"/><circle cx="358.2" cy="143.9" r="2.0" fill="#000000"/>
<path d="M379.5 155.9H391.1M385.3 150.1V161.7" stroke="#000000" stroke-width="1.9" fill="none"/><path d="M382.6 153.2L388.0 158.6M382.6 158.6L388.0 153.2" stroke="#000000" stroke-width="1.1" fill="none"/><circle cx="385.3" cy="155.9" r="2.0" fill="#000000"/>
<path d="M401.9 167.8H413.5M407.7 162.0V173.6" stroke="#000000" stroke-width="1.9" fill="none"/><path d="M405.0 165.1L410.4 170.5M405.0 170.5L410.4 165.1" stroke="#000000" stroke-width="1.1" fill="none"/><circle cx="407.7" cy="167.8" r="2.0" fill="#000000"/>
<path d="M426.2 179.7H437.8M432.0 173.9V185.5" stroke="#000000" stroke-width="1.9" fill="none"/><path d="M429.3 177.0L434.7 182.4M429.3 182.4L434.7 177.0" stroke="#000000" stroke-width="1.1" fill="none"/><circle cx="432.0" cy="179.7" r="2.0" fill="#000000"/>
<path d="M439.7 191.6H451.3M445.5 185.8V197.4" stroke="#000000" stroke-width="1.9" fill="none"/><path d="M442.8 188.9L448.2 194.3M442.8 194.3L448.2 188.9" stroke="#000000" stroke-width="1.1" fill="none"/><circle cx="445.5" cy="191.6" r="2.0" fill="#000000"/>
<path d="M452.8 203.5H464.4M458.6 197.7V209.3" stroke="#000000" stroke-width="1.9" fill="none"/><path d="M455.9 200.8L461.3 206.2M455.9 206.2L461.3 200.8" stroke="#000000" stroke-width="1.1" fill="none"/><circle cx="458.6" cy="203.5" r="2.0" fill="#000000"/>
<path d="M465.0 215.4H476.6M470.8 209.6V221.2" stroke="#000000" stroke-width="1.9" fill="none"/><path d="M468.1 212.7L473.5 218.1M468.1 218.1L473.5 212.7" stroke="#000000" stroke-width="1.1" fill="none"/><circle cx="470.8" cy="215.4" r="2.0" fill="#000000"/>
<path d="M478.5 227.3H490.1M484.3 221.5V233.2" stroke="#000000" stroke-width="1.9" fill="none"/><path d="M481.6 224.7L487.0 230.0M481.6 230.0L487.0 224.7" stroke="#000000" stroke-width="1.1" fill="none"/><circle cx="484.3" cy="227.3" r="2.0" fill="#000000"/>
<path d="M486.9 239.3H498.5M492.7 233.5V245.1" stroke="#000000" stroke-width="1.9" fill="none"/><path d="M490.0 236.6L495.4 242.0M490.0 242.0L495.4 236.6" stroke="#000000" stroke-width="1.1" fill="none"/><circle cx="492.7" cy="239.3" r="2.0" fill="#000000"/>
<path d="M494.4 251.2H506.0M500.2 245.4V257.0" stroke="#000000" stroke-width="1.9" fill="none"/><path d="M497.5 248.5L502.9 253.9M497.5 253.9L502.9 248.5" stroke="#000000" stroke-width="1.1" fill="none"/><circle cx="500.2" cy="251.2" r="2.0" fill="#000000"/>
<path d="M498.1 263.1H509.7M503.9 257.3V268.9" stroke="#000000" stroke-width="1.9" fill="none"/><path d="M501.2 260.4L506.6 265.8M501.2 265.8L506.6 260.4" stroke="#000000" stroke-width="1.1" fill="none"/><circle cx="503.9" cy="263.1" r="2.0" fill="#000000"/>
<path d="M502.8 275.0H514.4M508.6 269.2V280.8" stroke="#000000" stroke-width="1.9" fill="none"/><path d="M505.9 272.3L511.3 277.7M505.9 277.7L511.3 272.3" stroke="#000000" stroke-width="1.1" fill="none"/><circle cx="508.6" cy="275.0" r="2.0" fill="#000000"/>
<path d="M506.1 286.9H517.7M511.9 281.1V292.7" stroke="#000000" stroke-width="1.9" fill="none"/><path d="M509.2 284.2L514.6 289.6M509.2 289.6L514.6 284.2" stroke="#000000" stroke-width="1.1" fill="none"/><circle cx="511.9" cy="286.9" r="2.0" fill="#000000"/>
<path d="M509.8 298.8H521.4M515.6 293.0V304.6" stroke="#000000" stroke-width="1.9" fill="none"/><path d="M512.9 296.1L518.3 301.5M512.9 301.5L518.3 296.1" stroke="#000000" stroke-width="1.1" fill="none"/><circle cx="515.6" cy="298.8" r="2.0" fill="#000000"/>
<path d="M511.2 310.8H522.8M517.0 305.0V316.6" stroke="#000000" stroke-width="1.9" fill="none"/><path d="M514.3 308.1L519.7 313.5M514.3 313.5L519.7 308.1" stroke="#000000" stroke-width="1.1" fill="none"/><circle cx="517.0" cy="310.8" r="2.0" fill="#000000"/>
<path d="M512.1 322.7H523.7M517.9 316.9V328.5" stroke="#000000" stroke-width="1.9" fill="none"/><path d="M515.2 320.0L520.6 325.4M515.2 325.4L520.6 320.0" stroke="#000000" stroke-width="1.1" fill="none"/><circle cx="517.9" cy="322.7" r="2.0" fill="#000000"/>
<path d="M513.1 334.6H524.7M518.9 328.8V340.4" stroke="#000000" stroke-width="1.9" fill="none"/><path d="M516.2 331.9L521.6 337.3M516.2 337.3L521.6 331.9" stroke="#000000" stroke-width="1.1" fill="none"/><circle cx="518.9" cy="334.6" r="2.0" fill="#000000"/>
<path d="M513.5 346.5H525.1M519.3 340.7V352.3" stroke="#000000" stroke-width="1.9" fill="none"/><path d="M516.6 343.8L522.0 349.2M516.6 349.2L522.0 343.8" stroke="#000000" stroke-width="1.1" fill="none"/><circle cx="519.3" cy="346.5" r="2.0" fill="#000000"/>
<path d="M514.0 358.4H525.6M519.8 352.6V364.2" stroke="#000000" stroke-width="1.9" fill="none"/><path d="M517.1 355.7L522.5 361.1M517.1 361.1L522.5 355.7" stroke="#000000" stroke-width="1.1" fill="none"/><circle cx="519.8" cy="358.4" r="2.0" fill="#000000"/>
<path d="M514.5 370.3H526.1M520.3 364.5V376.1" stroke="#000000" stroke-width="1.9" fill="none"/><path d="M517.6 367.6L523.0 373.0M517.6 373.0L523.0 367.6" stroke="#000000" stroke-width="1.1" fill="none"/><circle cx="520.3" cy="370.3" r="2.0" fill="#000000"/>
<path d="M514.9 382.2H526.5M520.7 376.4V388.0" stroke="#000000" stroke-width="1.9" fill="none"/><path d="M518.0 379.5L523.4 384.9M518.0 384.9L523.4 379.5" stroke="#000000" stroke-width="1.1" fill="none"/><circle cx="520.7" cy="382.2" r="2.0" fill="#000000"/>
<path d="M515.9 394.2H527.5M521.7 388.4V400.0" stroke="#000000" stroke-width="1.9" fill="none"/><path d="M519.0 391.5L524.4 396.9M519.0 396.9L524.4 391.5" stroke="#000000" stroke-width="1.1" fill="none"/><circle cx="521.7" cy="394.2" r="2.0" fill="#000000"/>
<path d="M528.0 406.1H539.6M533.8 400.3V411.9" stroke="#000000" stroke-width="1.9" fill="none"/><path d="M531.1 403.4L536.5 408.8M531.1 408.8L536.5 403.4" stroke="#000000" stroke-width="1.1" fill="none"/><circle cx="533.8" cy="406.1" r="2.0" fill="#000000"/>
<path d="M528.0 418.0H539.6M533.8 412.2V423.8" stroke="#000000" stroke-width="1.9" fill="none"/><path d="M531.1 415.3L536.5 420.7M531.1 420.7L536.5 415.3" stroke="#000000" stroke-width="1.1" fill="none"/><circle cx="533.8" cy="418.0" r="2.0" fill="#000000"/>
<path d="M528.0 429.9H539.6M533.8 424.1V435.7" stroke="#000000" stroke-width="1.9" fill="none"/><path d="M531.1 427.2L536.5 432.6M531.1 432.6L536.5 427.2" stroke="#000000" stroke-width="1.1" fill="none"/><circle cx="533.8" cy="429.9" r="2.0" fill="#000000"/>
<path d="M528.0 441.8H539.6M533.8 436.0V447.6" stroke="#000000" stroke-width="1.9" fill="none"/><path d="M531.1 439.1L536.5 444.5M531.1 444.5L536.5 439.1" stroke="#000000" stroke-width="1.1" fill="none"/><circle cx="533.8" cy="441.8" r="2.0" fill="#000000"/>
<polyline points="66.8,84.8 205.0,85.4 280.0,86.1 330.0,87.0 360.0,87.8 385.0,89.0 400.0,90.2 420.0,93.0 440.0,97.3 449.0,100.3 458.0,103.6 467.1,107.6 476.1,111.7 481.5,114.8 486.9,120.2 492.3,127.4 497.8,135.5 503.2,145.5 507.7,155.4 511.3,166.2 513.1,175.0 514.8,190.0 516.2,205.0 517.9,230.0 520.3,250.0 522.1,270.0 523.6,290.0 525.1,325.0 526.4,365.0 528.1,405.0 529.9,442.0" fill="none" stroke="#05a7e8" stroke-width="5.2" stroke-linejoin="round" stroke-linecap="round"/>
<text x="66.8" y="461.7" font-family="Liberation Sans, sans-serif" font-size="19" text-anchor="middle">0</text>
<text x="160.2" y="461.7" font-family="Liberation Sans, sans-serif" font-size="19" text-anchor="middle">0.2</text>
<text x="253.6" y="461.7" font-family="Liberation Sans, sans-serif" font-size="19" text-anchor="middle">0.4</text>
<text x="347.0" y="461.7" font-family="Liberation Sans, sans-serif" font-size="19" text-anchor="middle">0.6</text>
<text x="440.4" y="461.7" font-family="Liberation Sans, sans-serif" font-size="19" text-anchor="middle">0.8</text>
<text x="533.8" y="461.7" font-family="Liberation Sans, sans-serif" font-size="19" text-anchor="middle">1</text>
<text x="61.2" y="18.4" font-family="Liberation Sans, sans-serif" font-size="19" text-anchor="end">4</text>
<text x="61.2" y="113.7" font-family="Liberation Sans, sans-serif" font-size="19" text-anchor="end">0</text>
<text x="61.2" y="209.0" font-family="Liberation Sans, sans-serif" font-size="19" text-anchor="end">−4</text>
<text x="61.2" y="304.3" font-family="Liberation Sans, sans-serif" font-size="19" text-anchor="end">−8</text>
<text x="61.2" y="399.7" font-family="Liberation Sans, sans-serif" font-size="19" text-anchor="end">−12</text>
<text x="143.8" y="492.4" font-family="Liberation Sans, sans-serif" font-size="21.7">Proportion of basin above elevation</text>
<text transform="translate(21.8,291.8) rotate(-90)" x="0" y="0" font-family="Liberation Sans, sans-serif" font-size="21.7">Elevation (m)</text>
<path d="M87.2 247.5H144.4" stroke="#858585" stroke-width="1.6"/>
<circle cx="115.1" cy="247.5" r="2.5" fill="#858585"/>
<text x="159.5" y="254.6" font-family="Liberation Sans, sans-serif" font-size="16.1">observed (TR=2.25)</text>
<path d="M87.2 271.3H144.4" stroke="#980008" stroke-width="1.6"/>
<circle cx="115.1" cy="271.3" r="2.5" fill="#b8050f"/>
<text x="159.5" y="278.4" font-family="Liberation Sans, sans-serif" font-size="16.1">TR=2.0 ID=2 year 0</text>
<path d="M87.2 295.7H144.4" stroke="#ff0000" stroke-width="1.5"/>
<path d="M109.3 295.7H120.9M115.1 289.9V301.5" stroke="#ff0000" stroke-width="1.9" fill="none"/><path d="M112.4 293.0L117.8 298.4M112.4 298.4L117.8 293.0" stroke="#ff0000" stroke-width="1.1" fill="none"/><circle cx="115.1" cy="295.7" r="2.0" fill="#ff0000"/>
<text x="159.5" y="302.8" font-family="Liberation Sans, sans-serif" font-size="16.1">TR=2.0 ID=2 year 1000</text>
<path d="M86.5 320.7H145" stroke="#980008" stroke-width="1.8" stroke-dasharray="1.6 6.9"/>
<circle cx="115.1" cy="320.7" r="3.0" fill="#b8050f"/>
<text x="159.5" y="327.8" font-family="Liberation Sans, sans-serif" font-size="16.1">TR=2.0 ID=6 year 0</text>
<path d="M86.5 345.1H145" stroke="#ff0000" stroke-width="1.8" stroke-dasharray="1.6 6.9"/>
<path d="M109.3 345.1H120.9M115.1 339.3V350.9" stroke="#ff0000" stroke-width="1.9" fill="none"/><path d="M112.4 342.4L117.8 347.8M112.4 347.8L117.8 342.4" stroke="#ff0000" stroke-width="1.1" fill="none"/><circle cx="115.1" cy="345.1" r="2.0" fill="#ff0000"/>
<text x="159.5" y="352.2" font-family="Liberation Sans, sans-serif" font-size="16.1">TR=2.0 ID=6 year 1000</text>
<path d="M86.5 369.4H145" stroke="#ffb4b4" stroke-width="1.8" stroke-dasharray="1.6 6.9"/>
<path d="M115.1 362.4L108.7 373.1L121.5 373.1Z" stroke="#ffb4b4" stroke-width="1.2" fill="none" stroke-linejoin="miter"/>
<text x="159.5" y="376.6" font-family="Liberation Sans, sans-serif" font-size="16.1">TR=2.0 ID=6 year 10000</text>
<path d="M86.5 393.8H145" stroke="#00ffff" stroke-width="1.8" stroke-dasharray="1.6 6.9"/>
<path d="M115.1 386.8L108.7 397.4L121.5 397.4Z" stroke="#00ffff" stroke-width="1.4" fill="none" stroke-linejoin="miter"/>
<text x="159.5" y="400.9" font-family="Liberation Sans, sans-serif" font-size="16.1">TR=1.0 ID=6 year 10000</text>
<path d="M86.5 418.2H145" stroke="#000000" stroke-width="1.8" stroke-dasharray="1.6 6.9"/>
<path d="M109.3 418.2H120.9M115.1 412.4V424.0" stroke="#000000" stroke-width="1.9" fill="none"/><path d="M112.4 415.5L117.8 420.9M112.4 420.9L117.8 415.5" stroke="#000000" stroke-width="1.1" fill="none"/><circle cx="115.1" cy="418.2" r="2.0" fill="#000000"/>
<text x="159.5" y="425.3" font-family="Liberation Sans, sans-serif" font-size="16.1">TR=3.0 ID=6 year 1000</text>
</svg>
</body></html>
